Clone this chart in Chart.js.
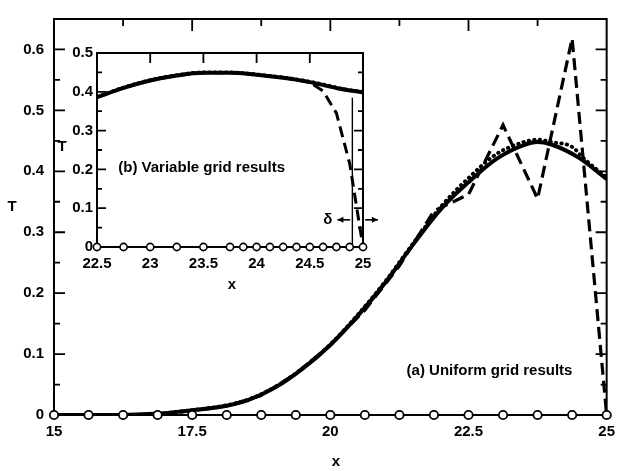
<!DOCTYPE html>
<html>
<head>
<meta charset="utf-8">
<script src="https://cdn.jsdelivr.net/npm/chart.js@4"></script>
<style>
  html, body { margin: 0; padding: 0; background: #fff; }
  #wrap { position: relative; width: 623px; height: 471px; }
  #mainChart { position: absolute; left: 0; top: 0; }
  #insetChart { position: absolute; left: 56px; top: 40px; }
</style>
</head>
<body>
<div id="wrap">
  <canvas id="mainChart" width="623" height="471"></canvas>
  <canvas id="insetChart" width="330" height="255"></canvas>
</div>
<script>
// (a) uniform grid: 17 nodes, dashed solution
const uniformX = [15, 15.625, 16.25, 16.875, 17.5, 18.125, 18.75, 19.375, 20, 20.625, 21.25, 21.875, 22.5, 23.125, 23.75, 24.375, 25];
const uniformT = [0, 0, 0, 0.001, 0.007, 0.015, 0.032, 0.068, 0.115, 0.172, 0.245, 0.335, 0.362, 0.476, 0.355, 0.618, 0];

// exact solution (solid)
const exactX = [15, 16, 16.5, 17, 17.5, 18, 18.5, 19, 19.5, 20, 20.5, 21, 21.5, 22, 22.5, 23, 23.5, 23.75, 24, 24.5, 25];
const exactT = [0, 0, 0.001, 0.003, 0.008, 0.013, 0.024, 0.045, 0.076, 0.115, 0.163, 0.218, 0.28, 0.338, 0.382, 0.42, 0.443, 0.448, 0.444, 0.422, 0.387];

// dotted solution
const dottedX = [17, 17.5, 18, 18.5, 19, 19.5, 20, 20.5, 21, 21.5, 22, 22.5, 23, 23.5, 23.75, 24, 24.375, 24.6, 25];
const dottedT = [0.003, 0.008, 0.014, 0.025, 0.046, 0.077, 0.116, 0.165, 0.22, 0.282, 0.342, 0.389, 0.428, 0.448, 0.452, 0.448, 0.44, 0.42, 0.39];

// (b) variable grid nodes
const varX = [22.5, 22.75, 23, 23.25, 23.5, 23.75, 23.875, 24, 24.125, 24.25, 24.375, 24.5, 24.625, 24.75, 24.875, 25];
const insetExactX = [22.5, 22.75, 23, 23.25, 23.5, 23.75, 24, 24.25, 24.5, 24.75, 25];
const insetExactT = [0.386, 0.41, 0.429, 0.442, 0.449, 0.449, 0.444, 0.436, 0.425, 0.41, 0.398];
const insetDashedT = [0.386, 0.41, 0.429, 0.442, 0.449, 0.449, 0.447, 0.444, 0.44, 0.436, 0.431, 0.424, 0.402, 0.345, 0.215, 0];
const insetDottedT = [0.387, 0.411, 0.43, 0.443, 0.45, 0.45, 0.448, 0.445, 0.441, 0.437, 0.432, 0.426, 0.419, 0.411, 0.404, 0.4];
const deltaX = 24.9;
const deltaTop = 0.385;

// tick labels
const mainXTicks = [15, 17.5, 20, 22.5, 25];
const mainYTicks = [0, 0.1, 0.2, 0.3, 0.4, 0.5, 0.6];
const insetXTicks = [22.5, 23, 23.5, 24, 24.5, 25];
const insetYTicks = [0, 0.1, 0.2, 0.3, 0.4, 0.5];

const FONT = "'Liberation Sans', Arial, sans-serif";
const tickFont = { family: FONT, size: 15, weight: 'bold' };

function pts(xs, ys) {
    return xs.map((x, i) => ({ x: x, y: ys[i] }));
}

// frame + inward tick marks on all sides
function frameTicks(cfg) {
    return {
        id: 'frameTicks',
        beforeDatasetsDraw(chart) {
            const { ctx, chartArea: a } = chart;
            const xs = chart.scales.x, ys = chart.scales.y;
            ctx.save();
            ctx.strokeStyle = '#000';
            ctx.lineWidth = 2;
            ctx.strokeRect(a.left, a.top, a.right - a.left, a.bottom - a.top);
            ctx.lineWidth = 1.8;
            ctx.beginPath();
            cfg.y.forEach(([v, len]) => {
                const py = ys.getPixelForValue(v);
                ctx.moveTo(a.left, py); ctx.lineTo(a.left + len, py);
                ctx.moveTo(a.right, py); ctx.lineTo(a.right - len, py);
            });
            cfg.top.forEach(([v, len]) => {
                const px = xs.getPixelForValue(v);
                ctx.moveTo(px, a.top); ctx.lineTo(px, a.top + len);
            });
            ctx.stroke();
            ctx.restore();
        }
    };
}

function textPlugin(draw) {
    return { id: 'labels', afterDraw(chart) { draw(chart, chart.ctx); } };
}

function fixedScale(tickValues, size, horizontal, padding) {
    return {
        type: 'linear',
        afterBuildTicks: s => { s.ticks = tickValues.map(v => ({ value: v })); },
        afterFit: s => { if (horizontal) s.height = size; else s.width = size; },
        ticks: { font: tickFont, color: '#000', padding: padding, autoSkip: false, maxRotation: 0, callback: v => String(v) },
        grid: { display: false, drawTicks: false },
        border: { display: false }
    };
}

// main chart tick marks
const mainYMarks = [];
for (let i = 1; i <= 12; i++) mainYMarks.push([i * 0.05, i % 2 === 0 ? 11 : 6]);
const mainTopMarks = [];
for (let i = 1; i <= 7; i++) mainTopMarks.push([15 + i * 1.25, i % 2 === 0 ? 12 : 7]);

const mainX = fixedScale(mainXTicks, 56, true, 8);
mainX.min = 15; mainX.max = 25;
const mainY = fixedScale(mainYTicks, 54, false, 10);
mainY.min = 0; mainY.max = 0.65;

new Chart(document.getElementById('mainChart'), {
    type: 'line',
    data: {
        datasets: [
            { data: pts(uniformX, uniformX.map(() => 0)), showLine: false, pointRadius: 4.2, pointBackgroundColor: '#fff', pointBorderColor: '#000', pointBorderWidth: 1.8, clip: false, order: 0 },
            { data: pts(uniformX, uniformT), borderColor: '#000', borderWidth: 3.2, borderDash: [12, 6], pointRadius: 0, tension: 0, order: 1 },
            { data: pts(dottedX, dottedT), borderColor: '#000', borderWidth: 3.8, borderDash: [0.5, 5], borderCapStyle: 'round', pointRadius: 0, cubicInterpolationMode: 'monotone', order: 2 },
            { data: pts(exactX, exactT), borderColor: '#000', borderWidth: 4, pointRadius: 0, cubicInterpolationMode: 'monotone', order: 3 }
        ]
    },
    options: {
        responsive: false,
        animation: false,
        devicePixelRatio: 1,
        layout: { padding: { top: 12, right: 11, left: 0, bottom: 0 } },
        plugins: { legend: { display: false }, tooltip: { enabled: false } },
        scales: { x: mainX, y: mainY }
    },
    plugins: [
        frameTicks({ y: mainYMarks, top: mainTopMarks }),
        textPlugin((chart, ctx) => {
            const xs = chart.scales.x, ys = chart.scales.y;
            ctx.save();
            ctx.fillStyle = '#000';
            ctx.font = 'bold 15px ' + FONT;
            ctx.textBaseline = 'middle';
            ctx.textAlign = 'center';
            ctx.fillText('T', 12, 207);
            ctx.fillText('x', 336, 462);
            ctx.textAlign = 'left';
            ctx.fillText('(a) Uniform grid results', xs.getPixelForValue(21.38), ys.getPixelForValue(0.073));
            ctx.restore();
        })
    ]
});

// inset chart tick marks
const insetYMarks = [];
for (let i = 1; i <= 9; i++) insetYMarks.push([i * 0.05, i % 2 === 0 ? 9 : 5]);
const insetTopMarks = [[23, 10], [23.5, 10], [24, 10], [24.5, 10]];

const insX = fixedScale(insetXTicks, 48, true, 8);
insX.min = 22.5; insX.max = 25;
const insY = fixedScale(insetYTicks, 41, false, 4);
insY.min = 0; insY.max = 0.5;

new Chart(document.getElementById('insetChart'), {
    type: 'line',
    data: {
        datasets: [
            { data: pts(varX, varX.map(() => 0)), showLine: false, pointRadius: 3.6, pointBackgroundColor: '#fff', pointBorderColor: '#000', pointBorderWidth: 1.6, clip: false, order: 0 },
            { data: [{ x: deltaX, y: 0 }, { x: deltaX, y: deltaTop }], borderColor: '#000', borderWidth: 1.4, pointRadius: 0, order: 1 },
            { data: pts(varX, insetDashedT), borderColor: '#000', borderWidth: 3, borderDash: [11, 6], pointRadius: 0, tension: 0, order: 2 },
            { data: pts(varX, insetDottedT), borderColor: '#000', borderWidth: 3.8, borderDash: [0.5, 5], borderCapStyle: 'round', pointRadius: 0, cubicInterpolationMode: 'monotone', order: 3 },
            { data: pts(insetExactX, insetExactT), borderColor: '#000', borderWidth: 4, pointRadius: 0, cubicInterpolationMode: 'monotone', order: 4 }
        ]
    },
    options: {
        responsive: false,
        animation: false,
        devicePixelRatio: 1,
        layout: { padding: { top: 10, right: 23, left: 0, bottom: 0 } },
        plugins: { legend: { display: false }, tooltip: { enabled: false } },
        scales: { x: insX, y: insY }
    },
    plugins: [
        frameTicks({ y: insetYMarks, top: insetTopMarks }),
        textPlugin((chart, ctx) => {
            const xs = chart.scales.x, ys = chart.scales.y;
            ctx.save();
            ctx.fillStyle = '#000';
            ctx.strokeStyle = '#000';
            ctx.font = 'bold 15px ' + FONT;
            ctx.textBaseline = 'middle';
            ctx.textAlign = 'center';
            ctx.fillText('T', 6, 107);
            ctx.fillText('x', 176, 245);
            ctx.textAlign = 'left';
            ctx.fillText('(b) Variable grid results', xs.getPixelForValue(22.7), ys.getPixelForValue(0.203));
            // boundary layer width
            const ay = ys.getPixelForValue(0.07);
            ctx.textAlign = 'center';
            ctx.fillText('\u03b4', xs.getPixelForValue(24.67), ay);
            const arrow = (x0, x1) => {
                const dir = Math.sign(x1 - x0);
                ctx.lineWidth = 1.6;
                ctx.beginPath(); ctx.moveTo(x0, ay); ctx.lineTo(x1, ay); ctx.stroke();
                ctx.beginPath();
                ctx.moveTo(x1, ay); ctx.lineTo(x1 - dir * 6, ay - 3); ctx.lineTo(x1 - dir * 6, ay + 3);
                ctx.closePath(); ctx.fill();
            };
            arrow(xs.getPixelForValue(24.88), xs.getPixelForValue(24.76));
            arrow(xs.getPixelForValue(25.02), xs.getPixelForValue(25.14));
            ctx.restore();
        })
    ]
});
</script>
</body>
</html>
